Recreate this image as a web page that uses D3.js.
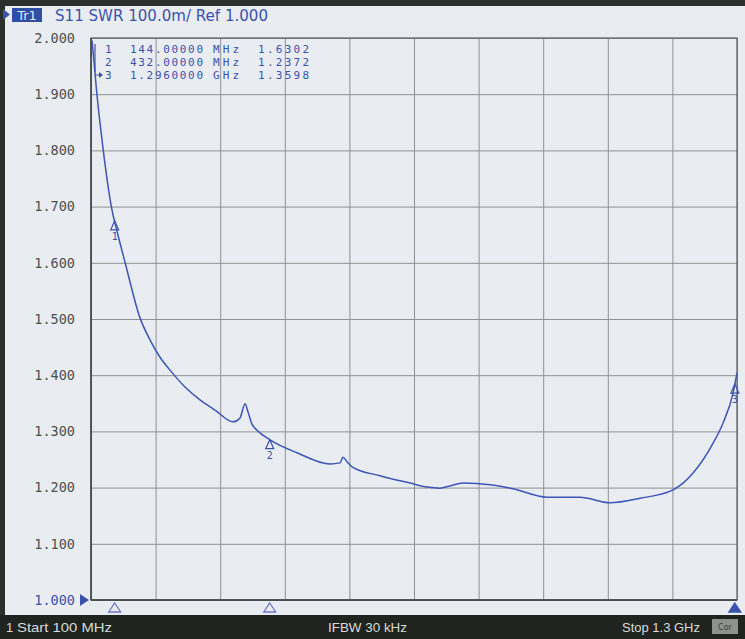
<!DOCTYPE html>
<html><head><meta charset="utf-8">
<script src="https://cdn.jsdelivr.net/npm/d3@7"></script>
<style>
html,body{margin:0;padding:0;background:#e9edf1;}
svg{display:block;}
</style></head>
<body>
<svg id="c" width="745" height="639"></svg>
<script>
// ---- data ----
const freqMHz = [101.9,110.6,122.3,137.2,150.2,163.2,191.0,209.6,228.2,246.8,274.6,302.5,330.3,363.8,376.8,386.1,391.6,399.1,408.4,432.5,482.7,544.0,562.6,568.1,575.6,584.8,636.8,692.6,724.2,748.3,766.9,791.0,841.2,883.9,947.1,1008.4,1064.1,1119.9,1181.2,1218.4,1255.6,1274.1,1292.7,1300];
const swr     = [1.996,1.904,1.804,1.703,1.649,1.601,1.502,1.463,1.432,1.409,1.379,1.356,1.338,1.317,1.324,1.349,1.335,1.313,1.302,1.285,1.262,1.242,1.244,1.254,1.246,1.237,1.221,1.208,1.201,1.199,1.203,1.208,1.205,1.198,1.183,1.183,1.173,1.181,1.196,1.226,1.279,1.315,1.368,1.404];
const yTicks = [2.0,1.9,1.8,1.7,1.6,1.5,1.4,1.3,1.2,1.1,1.0];
const xGrid = [100,220,340,460,580,700,820,940,1060,1180,1300];
const markerIds = ["1","2","3"];
const markerFreqs = [144,432,1296];
const markerFreqText = ["144.00000","432.00000","1.2960000"];
const markerUnits = ["MHz","MHz","GHz"];
const markerValText = ["1.6302","1.2372","1.3598"];
const headerText = "S11 SWR 100.0m/ Ref 1.000";
const footStart = "Start 100 MHz", footIfbw = "IFBW 30 kHz", footStop = "Stop 1.3 GHz";

const svg = d3.select("#c");
const blue = "#3b52ad", trace = "#3d56b8";
const L = 91, R = 737, T = 38, B = 600;
const x = d3.scaleLinear().domain([100,1300]).range([L,R]);
const y = d3.scaleLinear().domain([1,2]).range([B,T]);

// frame
svg.append("rect").attr("x",0).attr("y",0).attr("width",745).attr("height",6).attr("fill","#2b302c");
svg.append("rect").attr("x",0).attr("y",0).attr("width",5).attr("height",639).attr("fill","#2b302c");

// header
svg.append("path").attr("d","M3,9 L10,14.5 L3,20 Z").attr("fill",blue);
svg.append("rect").attr("x",12).attr("y",8).attr("width",30).attr("height",14).attr("fill","#2f4ea6");
svg.append("text").attr("x",27).attr("y",20).attr("text-anchor","middle")
  .attr("font-family","DejaVu Sans").attr("font-size",13).attr("fill","#dfe6f5").text("Tr1");
svg.append("text").attr("x",55).attr("y",21).attr("font-family","DejaVu Sans").attr("font-size",15)
  .attr("fill",blue).attr("textLength",213).attr("lengthAdjust","spacingAndGlyphs").text(headerText);

// grid
const gx = svg.append("g").attr("transform",`translate(0,${B})`)
  .call(d3.axisBottom(x).tickValues(xGrid).tickSize(-(B-T)).tickFormat(""));
const gy = svg.append("g").attr("transform",`translate(${L},0)`)
  .call(d3.axisLeft(y).tickValues(yTicks).tickSize(-(R-L)).tickFormat(""));
[gx,gy].forEach(g=>{g.select(".domain").remove();
  g.selectAll(".tick line").attr("stroke","#8e9193").attr("stroke-width",1);});
svg.append("rect").attr("x",L).attr("y",T).attr("width",R-L).attr("height",B-T)
  .attr("fill","none").attr("stroke","#5a5d5f").attr("stroke-width",1.2);
svg.append("line").attr("x1",L).attr("x2",R).attr("y1",B).attr("y2",B).attr("stroke","#3e4244").attr("stroke-width",1.6);
svg.append("line").attr("x1",L).attr("x2",L).attr("y1",T).attr("y2",B).attr("stroke","#3e4244").attr("stroke-width",1.4);

// y labels
const yl = svg.append("g").attr("transform","translate(75,0)")
  .call(d3.axisLeft(y).tickValues(yTicks).tickSize(0).tickPadding(0).tickFormat(d3.format(".3f")));
yl.select(".domain").remove();
yl.selectAll("text").attr("font-family","DejaVu Sans Mono").attr("font-size",13.5)
  .attr("fill",d=>d===1?blue:"#4d4f51");
svg.append("path").attr("d",`M80,${B-6} L89,${B} L80,${B+6} Z`).attr("fill",blue);

// trace
const line = d3.line().x((d,i)=>x(freqMHz[i])).y(d=>y(d)).curve(d3.curveMonotoneX);
svg.append("path").datum(swr).attr("d",line).attr("fill","none")
  .attr("stroke",trace).attr("stroke-width",1.5);

// markers
function valAt(f){
  const i = Math.max(1, d3.bisectLeft(freqMHz,f));
  const j = Math.min(i, freqMHz.length-1);
  const f0=freqMHz[j-1], f1=freqMHz[j];
  const t = (f-f0)/(f1-f0);
  return swr[j-1] + t*(swr[j]-swr[j-1]);
}
markerFreqs.forEach((f,k)=>{
  const mx = x(f), my = y(valAt(f));
  svg.append("path").attr("d",`M${mx},${my} L${mx+4},${my+9} L${mx-4},${my+9} Z`)
    .attr("fill","none").attr("stroke",blue).attr("stroke-width",1.2);
  svg.append("text").attr("x",mx).attr("y",my+19).attr("text-anchor","middle")
    .attr("font-family","DejaVu Sans Mono").attr("font-size",10).attr("fill",blue).text(markerIds[k]);
  // bottom indicators
  const by = 603;
  svg.append("path").attr("d",`M${mx},${by} L${mx+6},${by+9} L${mx-6},${by+9} Z`)
    .attr("fill",k===2?blue:"none").attr("stroke",k===2?blue:"#6f77c4").attr("stroke-width",1.3);
});

// marker table
const rows = [53,66,79];
markerIds.forEach((id,k)=>{
  const ty = rows[k];
  const tf = (xx,txt,w)=>{const t=svg.append("text").attr("x",xx).attr("y",ty).attr("font-family","DejaVu Sans Mono")
    .attr("font-size",11).attr("fill",blue).text(txt);
    if(w) t.attr("textLength",w).attr("lengthAdjust","spacing");};
  tf(105,id); tf(130,markerFreqText[k],73); tf(213,markerUnits[k],26); tf(258,markerValText[k],51);
});
svg.append("path").attr("d","M95,44 L95,72 M95,75 L100,75").attr("stroke",blue).attr("stroke-width",1.2).attr("fill","none");
svg.append("path").attr("d","M99,72 L103,75 L99,78 Z").attr("fill",blue);

// footer
svg.append("rect").attr("x",0).attr("y",615).attr("width",745).attr("height",24).attr("fill","#1f2420");
const ft = (xx,txt,w)=>svg.append("text").attr("x",xx).attr("y",632).attr("font-family","Liberation Sans")
  .attr("font-size",13).attr("fill","#d8dcd8").attr("textLength",w).attr("lengthAdjust","spacingAndGlyphs").text(txt);
svg.append("text").attr("x",6).attr("y",632).attr("font-family","Liberation Sans").attr("font-size",13).attr("fill","#d8dcd8").text("1");
ft(17,footStart,95); ft(328,footIfbw,79); ft(622,footStop,78);
svg.append("rect").attr("x",712).attr("y",619).attr("width",26).attr("height",15).attr("fill","#8d928e");
svg.append("text").attr("x",725).attr("y",630).attr("text-anchor","middle").attr("font-family","DejaVu Sans")
  .attr("font-size",8).attr("fill","#3a3d3a").text("Cor");
</script>
</body></html>
